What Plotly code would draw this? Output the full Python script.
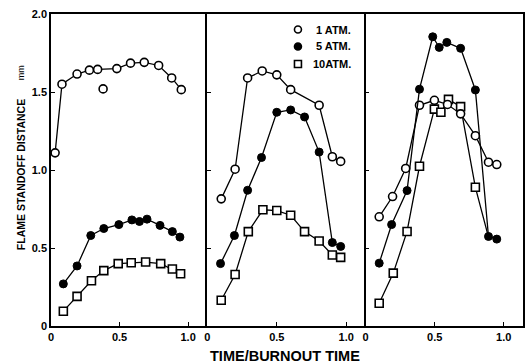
import plotly.graph_objects as go

# ---------------- data ----------------
# Panel 1
p1_atm1_x = [0.03, 0.08, 0.19, 0.28, 0.34, 0.48, 0.58, 0.68, 0.785, 0.88, 0.95]
p1_atm1_y = [1.11, 1.55, 1.615, 1.64, 1.645, 1.65, 1.685, 1.69, 1.67, 1.59, 1.515]
p1_atm1_extra_x = [0.38]
p1_atm1_extra_y = [1.52]
p1_atm5_x = [0.09, 0.19, 0.29, 0.385, 0.495, 0.59, 0.645, 0.70, 0.795, 0.885, 0.94]
p1_atm5_y = [0.27, 0.385, 0.58, 0.625, 0.65, 0.68, 0.67, 0.685, 0.645, 0.605, 0.57]
p1_atm10_x = [0.09, 0.19, 0.295, 0.385, 0.49, 0.585, 0.69, 0.80, 0.885, 0.945]
p1_atm10_y = [0.095, 0.19, 0.29, 0.355, 0.40, 0.405, 0.41, 0.40, 0.365, 0.335]

# Panel 2
p2_atm1_x = [0.10, 0.20, 0.29, 0.395, 0.50, 0.60, 0.805, 0.90, 0.96]
p2_atm1_y = [0.815, 1.005, 1.59, 1.635, 1.61, 1.515, 1.415, 1.085, 1.055]
p2_atm5_x = [0.095, 0.195, 0.29, 0.39, 0.50, 0.60, 0.70, 0.805, 0.90, 0.96]
p2_atm5_y = [0.40, 0.58, 0.87, 1.08, 1.37, 1.385, 1.34, 1.115, 0.535, 0.51]
p2_atm10_x = [0.10, 0.20, 0.295, 0.40, 0.50, 0.60, 0.70, 0.805, 0.90, 0.96]
p2_atm10_y = [0.165, 0.33, 0.605, 0.745, 0.74, 0.71, 0.605, 0.545, 0.455, 0.44]

# Panel 3
p3_atm1_x = [0.098, 0.195, 0.29, 0.39, 0.498, 0.593, 0.688, 0.795, 0.89, 0.95]
p3_atm1_y = [0.70, 0.83, 1.01, 1.415, 1.447, 1.42, 1.36, 1.22, 1.05, 1.035]
p3_atm5_x = [0.098, 0.188, 0.30, 0.39, 0.486, 0.533, 0.588, 0.688, 0.795, 0.89, 0.95]
p3_atm5_y = [0.403, 0.65, 0.868, 1.518, 1.854, 1.786, 1.818, 1.78, 1.513, 0.574, 0.557]
p3_atm10_x = [0.098, 0.20, 0.30, 0.39, 0.498, 0.545, 0.60, 0.688, 0.795, 0.89]
p3_atm10_y = [0.146, 0.339, 0.606, 1.024, 1.39, 1.37, 1.453, 1.406, 0.889, 0.57]

series_names = ["1 ATM.", "5 ATM.", "10ATM."]
x_tick_vals = [0, 0.5, 1.0]
x_tick_text = ["0", "0.5", "1.0"]
y_tick_vals = [0, 0.5, 1.0, 1.5, 2.0]
y_tick_text = ["0", "0.5", "1.0", "1.5", "2.0"]

# ---------------- layout geometry (pixels) ----------------
W, H = 532, 363
ML, MR, MT, MB = 51, 7, 14, 37
PW = W - ML - MR
PH = H - MT - MB


def px_x(px):
    return (px - ML) / PW


def px_y(py):
    return (H - MB - py) / PH


FONT = "Liberation Sans"
styles = {
    "1": dict(symbol="circle", size=8, color="white", opacity=1, line=dict(color="black", width=1.6)),
    "5": dict(symbol="circle", size=8, color="black", opacity=1, line=dict(color="black", width=1)),
    "10": dict(symbol="square", size=8, color="white", opacity=1, line=dict(color="black", width=1.6)),
}
LINE = dict(color="black", width=1.3)

fig = go.Figure()

panels = [
    ("x", "y", [(p1_atm10_x, p1_atm10_y, "10"), (p1_atm1_x, p1_atm1_y, "1"), (p1_atm5_x, p1_atm5_y, "5")]),
    ("x2", "y2", [(p2_atm10_x, p2_atm10_y, "10"), (p2_atm1_x, p2_atm1_y, "1"), (p2_atm5_x, p2_atm5_y, "5")]),
    ("x3", "y3", [(p3_atm10_x, p3_atm10_y, "10"), (p3_atm1_x, p3_atm1_y, "1"), (p3_atm5_x, p3_atm5_y, "5")]),
]
for pi, (xa, ya, series) in enumerate(panels):
    for xs, ys, key in series:
        mk = dict(styles[key])
        if pi == 2 and key == "10":
            # last square is hidden under the 5 ATM point in the reference
            mk["size"] = [8] * (len(xs) - 1) + [0]
        fig.add_trace(go.Scatter(x=xs, y=ys, xaxis=xa, yaxis=ya, mode="lines+markers",
                                 line=LINE, marker=mk, showlegend=False, hoverinfo="skip"))

fig.add_trace(go.Scatter(x=p1_atm1_extra_x, y=p1_atm1_extra_y, xaxis="x", yaxis="y", mode="markers",
                         marker=styles["1"], showlegend=False, hoverinfo="skip"))

d1 = 157 / PW
d2 = 316 / PW
domains = [[0, d1], [d1, d2], [d2, 1]]

axis_common = dict(showline=True, linecolor="black", linewidth=1.6,
                   ticks="inside", ticklen=4, tickwidth=1.3, tickcolor="black",
                   showgrid=False, zeroline=False,
                   tickfont=dict(family=FONT, size=11, color="black", weight="bold"))

layout = dict(
    width=W, height=H,
    margin=dict(l=ML, r=MR, t=MT, b=MB),
    paper_bgcolor="white", plot_bgcolor="white",
    showlegend=False,
)
for i, dom in enumerate(domains):
    sx = "" if i == 0 else str(i + 1)
    layout["xaxis" + sx] = dict(domain=dom, range=[0, 1.14], tickvals=x_tick_vals, ticktext=x_tick_text,
                                anchor="y" + sx, mirror=True, **axis_common)
    layout["yaxis" + sx] = dict(domain=[0, 1], range=[0, 2.0], tickvals=y_tick_vals, ticktext=y_tick_text,
                                anchor="x" + sx, showticklabels=(i == 0), mirror=(i == 2), **axis_common)
fig.update_layout(**layout)

# legend (drawn as layout decorations)
leg_rows = [29.5, 46.5, 64]
leg_sym_x = 299
leg_r = 3.5
for name, key, row in zip(series_names, ["1", "5", "10"], leg_rows):
    st = styles[key]
    shape_type = "rect" if key == "10" else "circle"
    fig.add_shape(type=shape_type, xref="paper", yref="paper",
                  x0=px_x(leg_sym_x - leg_r), x1=px_x(leg_sym_x + leg_r),
                  y0=px_y(row + leg_r), y1=px_y(row - leg_r),
                  fillcolor=st["color"], line=dict(color="black", width=1.6))
    fig.add_annotation(text=name, xref="paper", yref="paper", x=px_x(354), y=px_y(row),
                       xanchor="right", yanchor="middle", showarrow=False,
                       font=dict(family=FONT, size=11, color="black", weight="bold"))

fig.add_annotation(text="FLAME STANDOFF DISTANCE", xref="paper", yref="paper",
                   x=px_x(21), y=px_y(175), textangle=-90, showarrow=False,
                   xanchor="center", yanchor="middle",
                   font=dict(family=FONT, size=10.5, color="black", weight="bold"))
fig.add_annotation(text="mm", xref="paper", yref="paper",
                   x=px_x(21), y=px_y(73), textangle=-90, showarrow=False,
                   xanchor="center", yanchor="middle",
                   font=dict(family=FONT, size=9, color="black"))
fig.add_annotation(text="TIME/BURNOUT TIME", xref="paper", yref="paper",
                   x=px_x(286), y=px_y(356), showarrow=False,
                   xanchor="center", yanchor="middle",
                   font=dict(family=FONT, size=14.5, color="black", weight="bold"))

fig.write_html("out.html")
